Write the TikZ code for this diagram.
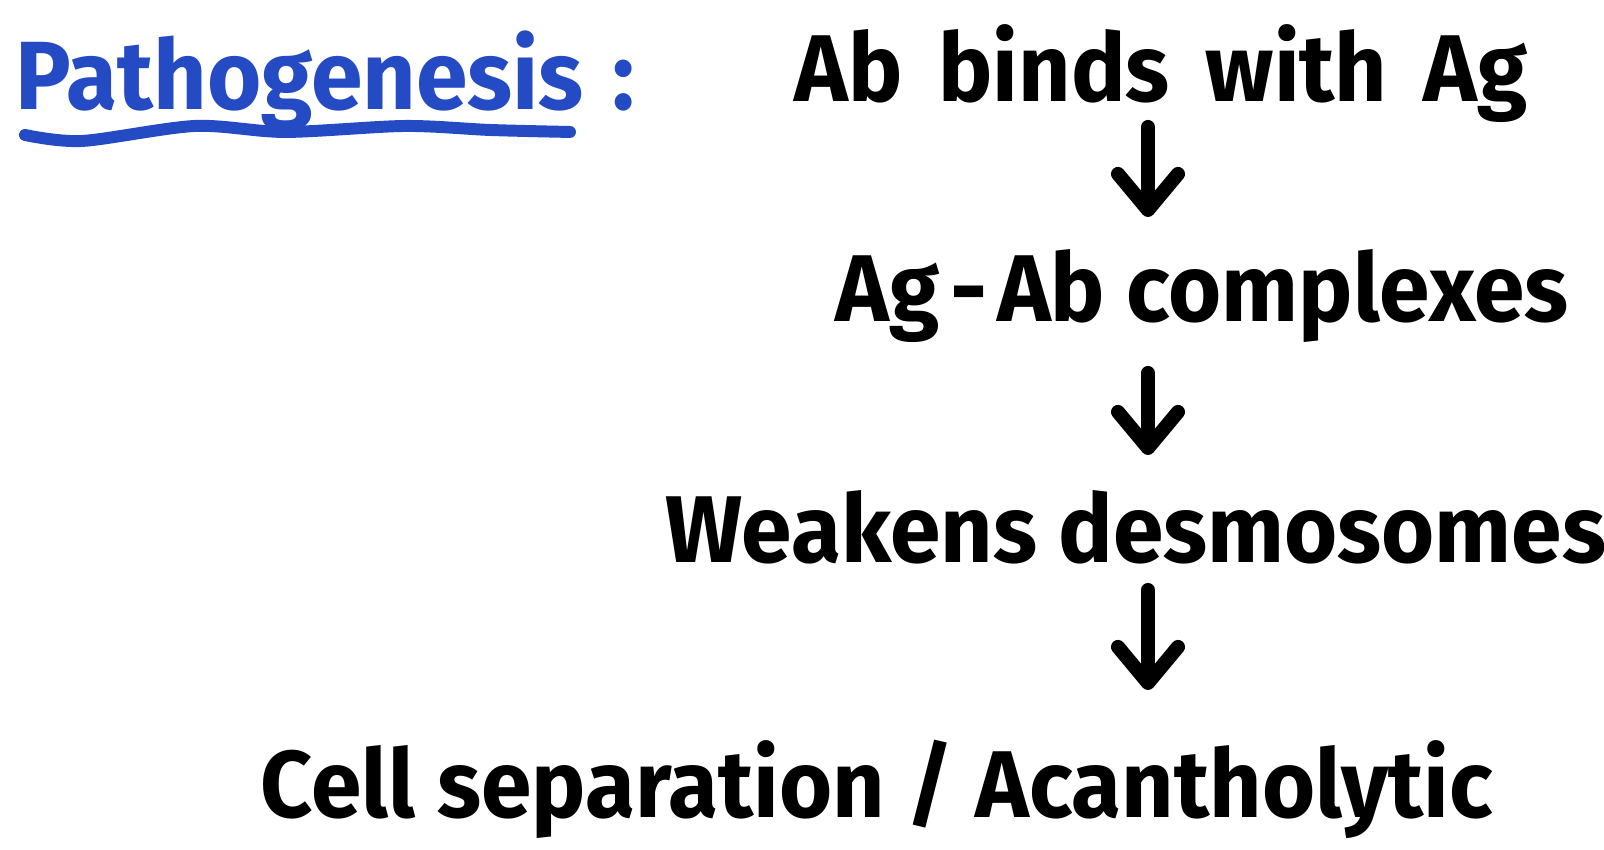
\documentclass[tikz,border=0pt]{standalone}
\usepackage{fontspec}
\setmainfont{Fira Sans}[FakeStretch=0.96]
\usepackage{tikz}
\usetikzlibrary{arrows.meta, positioning, calc}
\definecolor{penblue}{RGB}{36,74,196}
\newcommand{\gap}{\hspace{0.38em}}

\begin{document}
\begin{tikzpicture}[>={Straight Barb[length=3.6mm, width=6mm, round]},
  step text/.style={inner sep=0pt, anchor=base, font=\fontsize{27}{32}\selectfont\bfseries},
  flow/.style={->, line width=4pt, line cap=round}]
  \useasboundingbox (0,0) rectangle (16.04,8.5);
  % heading, underlined by hand
  \node[step text, text=penblue, anchor=base west, font=\fontsize{27.6}{33}\selectfont\bfseries] (title) at (0.15,7.40) {Pathogenesis\hspace{0.3em}:};
  \draw[penblue, line width=3.4pt, line cap=round] plot[smooth] coordinates {(0.25,7.15) (0.82,7.09) (1.95,7.24) (2.85,7.18) (4.05,7.24) (4.9,7.20) (5.70,7.18)};
  % the chain of events
  \node[step text] (bind) at (11.61,7.48) {Ab\gap binds\gap with\gap Ag};
  \node[step text] (cplx) at (12.02,5.28) {Ag\hspace{0.12em}-\hspace{0.1em}Ab complexes};
  \node[step text] (desm) at (11.36,2.87) {Weakens desmosomes};
  \node[step text] (sep)  at (8.77,0.32) {Cell separation / Acantholytic};
  \coordinate (col) at (11.48,0);
  \draw[flow] ($(bind.base -| col)+(0,-0.25)$) -- ($(cplx.base -| col)+(0,1.05)$);
  \draw[flow] ($(cplx.base -| col)+(0,-0.51)$) -- ($(desm.base -| col)+(0,1.08)$);
  \draw[flow] ($(desm.base -| col)+(0,-0.27)$) -- ($(sep.base -| col)+(0,1.28)$);
\end{tikzpicture}
\end{document}
